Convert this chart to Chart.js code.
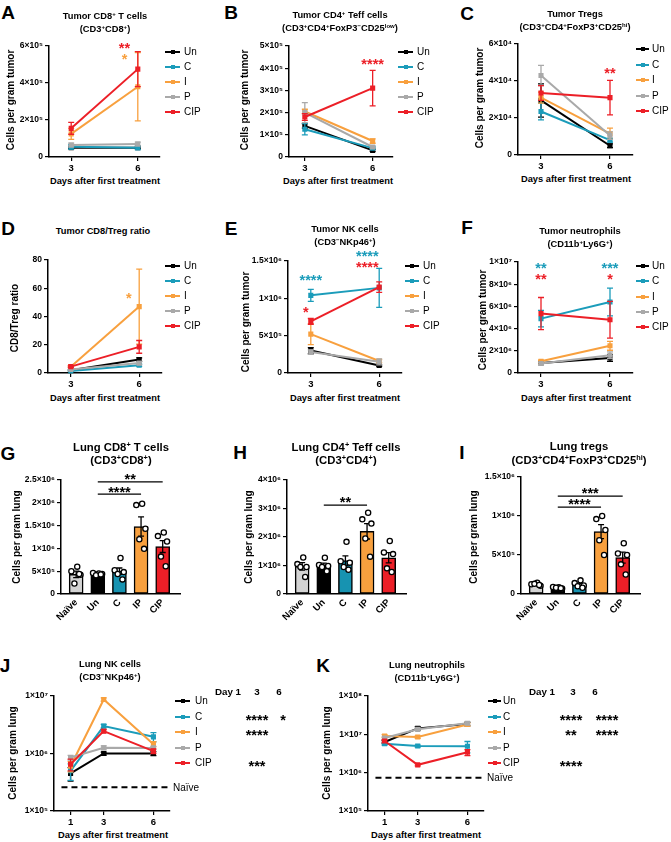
<!DOCTYPE html>
<html>
<head>
<meta charset="utf-8">
<title>Tumor and lung immune cells</title>
<script src="https://cdn.jsdelivr.net/npm/chart.js@4.4.1/dist/chart.umd.min.js"></script>
<style>
  body { margin: 0; background: #fff; }
  #page { position: relative; width: 671px; height: 842px; overflow: hidden; font-family: 'Liberation Sans', Arial, sans-serif; color: #000; }
  #page canvas { position: absolute; }
  .lbl { position: absolute; transform: translate(-50%, -50%); white-space: nowrap; text-align: center; font-weight: bold; }
  .letter { font-size: 19px; line-height: 19px; }
  .ttl { font-size: 9.3px; line-height: 13px; }
  .big { font-size: 11.3px; line-height: 13.5px; }
  .axl { font-size: 9.3px; line-height: 11px; }
  .hd { font-size: 9.8px; line-height: 11px; }
  .yl { font-size: 10px; line-height: 11px; transform: translate(-50%, -50%) rotate(-90deg); }
  .star { font-size: 14.5px; line-height: 14.5px; }
  .lg { position: absolute; font-size: 10px; line-height: 12px; transform: translateY(-50%); white-space: nowrap; }
  .lgline { position: absolute; height: 2px; }
  .lgdot { position: absolute; width: 4px; height: 4px; }
  sup { font-size: 65%; line-height: 0; vertical-align: 0.45em; }
</style>
</head>
<body>
<div id="page"></div>
<script>
// --- groupes / couleurs ---
const groups = ['Un', 'C', 'I', 'P', 'CIP'];
const barGroups = ['Naïve', 'Un', 'C', 'IP', 'CIP'];
const tumorDays = [3, 6];
const lungDays = [1, 3, 6];
const lineColors = ['#000000', '#1b9cba', '#f8a03e', '#a9a9a9', '#ec1f27'];
const barColors = ['#d3d3d3', '#000000', '#1793b1', '#f8a03e', '#ec1f27'];

// --- A: tumor CD8 ---
const aMean = [[5.0e4, 5.0e4], [5.5e4, 5.0e4], [1.25e5, 3.8e5], [6.5e4, 7.0e4], [1.55e5, 4.75e5]];
const aSem = [[5e3, 5e3], [1.2e4, 1e4], [3e4, 1.85e5], [1e4, 1e4], [3.2e4, 9.5e4]];
const aTicks = [0, 2e5, 4e5, 6e5];
// --- B: tumor CD4 Teff ---
const bMean = [[1.4e5, 3e4], [1.25e5, 4e4], [2.05e5, 7.2e4], [2.0e5, 4.5e4], [1.8e5, 3.1e5]];
const bSem = [[1e4, 5e3], [2.5e4, 5e3], [1e4, 1e4], [4.5e4, 5e3], [1.5e4, 8e4]];
const bTicks = [0, 1e5, 2e5, 3e5, 4e5, 5e5];
// --- C: tumor Tregs ---
const cMean = [[2.95e4, 5e3], [2.35e4, 8e3], [3.1e4, 1.15e4], [4.3e4, 1.05e4], [3.35e4, 3.1e4]];
const cSem = [[9e3, 1e3], [4.5e3, 1e3], [3e3, 3e3], [5.5e3, 2e3], [4e3, 9.3e3]];
const cTicks = [0, 2e4, 4e4, 6e4];
// --- D: CD8/Treg ratio ---
const dMean = [[2, 9.5], [1.5, 5.5], [4.5, 47], [2.5, 7], [4.5, 18.5]];
const dSem = [[0.3, 1.2], [0.3, 0.8], [0.5, 26.5], [0.4, 1], [0.5, 4.5]];
const dTicks = [0, 20, 40, 60, 80];
// --- E: tumor NK ---
const eMean = [[3.0e5, 1.0e5], [1.04e6, 1.14e6], [5.2e5, 1.6e5], [2.8e5, 1.5e5], [6.9e5, 1.15e6]];
const eSem = [[4e4, 1e4], [8e4, 2.6e5], [1.4e5, 2e4], [3e4, 4e4], [4e4, 7e4]];
const eTicks = [0, 5e5, 1e6, 1.5e6];
// --- F: tumor neutrophils ---
const fMean = [[9e5, 1.35e6], [4.9e6, 6.4e6], [1.05e6, 2.45e6], [8.5e5, 1.6e6], [5.35e6, 4.8e6]];
const fSem = [[1e5, 3e5], [7.5e5, 1.25e6], [1e5, 4e5], [1e5, 3e5], [1.45e6, 1.65e6]];
const fTicks = [0, 2e6, 4e6, 6e6, 8e6, 1e7];
// --- G/H/I: lung bars ---
const gMean = [4.3e5, 4.3e5, 5.0e5, 1.48e6, 1.04e6];
const gSem = [7e4, 2e4, 7e4, 2.1e5, 1.3e5];
const gPoints = [[6.0e5, 5.0e5, 4.2e5, 2.3e5, 4.4e5], [4.5e5, 4.6e5, 4.4e5, 4.1e5, 4.3e5], [7.9e5, 5.2e5, 4.8e5, 4.4e5, 3.2e5], [1.98e6, 1.95e6, 1.43e6, 1.2e6, 9.9e5], [1.35e6, 1.27e6, 1.15e6, 8.2e5, 6.1e5]];
const gTicks = [0, 5e5, 1e6, 1.5e6, 2e6, 2.5e6];
const hMean = [9.7e5, 1.0e6, 1.17e6, 2.2e6, 1.27e6];
const hSem = [1.3e5, 8e4, 1.7e5, 2.7e5, 1.8e5];
const hPoints = [[1.28e6, 1.05e6, 9.5e5, 9.5e5, 6.0e5], [1.27e6, 1.02e6, 9.8e5, 9.5e5, 8.0e5], [1.83e6, 1.15e6, 1.1e6, 9.5e5, 8.5e5], [2.85e6, 2.62e6, 2.47e6, 1.95e6, 1.31e6], [1.86e6, 1.46e6, 1.4e6, 9.0e5, 7.7e5]];
const hTicks = [0, 1e6, 2e6, 3e6, 4e6];
const iMean = [1.24e5, 8e4, 1.15e5, 8.0e5, 4.66e5];
const iSem = [1.5e4, 8e3, 2e4, 9e4, 7e4];
const iPoints = [[1.45e5, 1.25e5, 1.05e5, 1.3e5, 1.15e5], [8.5e4, 9e4, 7e4, 8e4, 7.5e4], [1.75e5, 1.4e5, 1.1e5, 1.0e5, 8e4], [1.0e6, 9.6e5, 8.2e5, 6.9e5, 5.0e5], [6.5e5, 5.2e5, 5.0e5, 3.8e5, 2.5e5]];
const iTicks = [0, 5e5, 1e6, 1.5e6];
// --- J/K: lung kinetics (log) ---
const jMean = [[4.5e5, 1.0e6, 1.0e6], [5.0e5, 3.0e6, 1.95e6], [6.0e5, 8.7e6, 1.45e6], [8.5e5, 1.26e6, 1.25e6], [6.5e5, 2.45e6, 1.1e6]];
const jSem = [[1.2e5, 6e4, 8e4], [1.6e5, 2e5, 3.5e5], [1.2e5, 6e5, 1.5e5], [8e4, 1e5, 8e4], [1.5e5, 1.5e5, 1e5]];
const jTicks = [1e5, 1e6, 1e7];
const jNaive = 2.6e5;
const jSig = [['', '', ''], ['', '****', '*'], ['', '****', ''], ['', '', ''], ['', '***', '']];
const kMean = [[6.3e6, 1.43e7, 1.86e7], [5.7e6, 4.96e6, 4.9e6], [9e6, 8.5e6, 1.8e7], [8e6, 1.35e7, 1.95e7], [6.7e6, 1.6e6, 3.4e6]];
const kSem = [[6e5, 1.5e6, 2e6], [5e5, 3e5, 1.6e6], [8e5, 6e5, 1.5e6], [6e5, 1e6, 1.5e6], [5e5, 1e5, 6e5]];
const kTicks = [1e5, 1e6, 1e7, 1e8];
const kNaive = 7.4e5;
const kSig = [['', '', ''], ['', '****', '****'], ['', '**', '****'], ['', '', ''], ['', '****', '']];

const RED = lineColors[4], ORANGE = lineColors[2], TEAL = lineColors[1];
const jitter = [0.05, -0.22, 0.2, -0.08, 0.14];

Chart.defaults.font.family = "'Liberation Sans', Arial, sans-serif";
Chart.defaults.color = '#000';
Chart.defaults.animation = false;

const page = document.getElementById('page');
const YW = 42, XH = 18, XB = 34, PT = 14, PR = 8;
const SUP = '⁰¹²³⁴⁵⁶⁷⁸⁹';

function sci(v) {
  if (v === 0) return '0';
  if (v < 1000) return String(v);
  const e = Math.floor(Math.log10(v) + 1e-9);
  const m = Math.round(v / Math.pow(10, e) * 10) / 10;
  return m + '×10' + String(e).split('').map(d => SUP[d]).join('');
}

function yAxis(ticks, type) {
  return {
    type: type || 'linear', min: ticks[0], max: ticks[ticks.length - 1], bounds: 'data',
    afterBuildTicks: s => { s.ticks = ticks.map(v => ({ value: v })); },
    afterFit: s => { s.width = YW; },
    ticks: { callback: v => sci(v), font: { size: 8.5, weight: 'bold' }, padding: 2, autoSkip: false },
    grid: { drawOnChartArea: false, tickLength: 4, color: '#000', lineWidth: 1.2 },
    border: { color: '#000', width: 1.5 }
  };
}

function xAxis(ticks, min, max) {
  return {
    type: 'linear', min: min, max: max, bounds: 'data',
    afterBuildTicks: s => { s.ticks = ticks.map(v => ({ value: v })); },
    afterFit: s => { s.height = XH; },
    ticks: { font: { size: 9.5, weight: 'bold' }, padding: 2, autoSkip: false, maxRotation: 0 },
    grid: { drawOnChartArea: false, tickLength: 4, color: '#000', lineWidth: 1.2 },
    border: { color: '#000', width: 1.5 }
  };
}

// barres d'erreur (moyenne ± SEM) dessinées après chaque dataset
const errorBars = {
  id: 'errorBars',
  afterDatasetDraw(chart, args) {
    const ds = chart.data.datasets[args.index];
    if (!ds.sem) return;
    const ys = chart.scales.y, ctx = chart.ctx;
    ctx.save();
    ctx.strokeStyle = ds.errColor || ds.borderColor;
    ctx.lineWidth = 1.3;
    args.meta.data.forEach((el, k) => {
      const v = ds.data[k].y, s = ds.sem[k];
      if (!s) return;
      const top = ys.getPixelForValue(v + s);
      const bot = ys.getPixelForValue(Math.max(v - s, ys.min));
      ctx.beginPath();
      ctx.moveTo(el.x, top); ctx.lineTo(el.x, bot);
      ctx.moveTo(el.x - 3, top); ctx.lineTo(el.x + 3, top);
      ctx.moveTo(el.x - 3, bot); ctx.lineTo(el.x + 3, bot);
      ctx.stroke();
    });
    ctx.restore();
  }
};

function drawStars(ctx, t, x, y, color) {
  ctx.fillStyle = color;
  ctx.font = "bold 14.5px 'Liberation Sans', Arial, sans-serif";
  ctx.textAlign = 'center';
  ctx.textBaseline = 'alphabetic';
  ctx.fillText(t, x, y + 8.4);
}

function marks(list) {
  return {
    id: 'marks',
    afterDraw(chart) {
      const xs = chart.scales.x, ys = chart.scales.y, ctx = chart.ctx;
      ctx.save();
      list.forEach(m => drawStars(ctx, m.t, xs.getPixelForValue(m.x), ys.getPixelForValue(m.y), m.c));
      ctx.restore();
    }
  };
}

function brackets(list) {
  return {
    id: 'brackets',
    afterDraw(chart) {
      const xs = chart.scales.x, ys = chart.scales.y, ctx = chart.ctx;
      ctx.save();
      list.forEach(b => {
        const x1 = xs.getPixelForValue(b.a), x2 = xs.getPixelForValue(b.b), y = ys.getPixelForValue(b.y);
        ctx.strokeStyle = '#000'; ctx.lineWidth = 1.3;
        ctx.beginPath(); ctx.moveTo(x1, y); ctx.lineTo(x2, y); ctx.stroke();
        drawStars(ctx, b.t, (x1 + x2) / 2, y - 6, '#000');
      });
      ctx.restore();
    }
  };
}

function naiveTag(level) {
  return {
    id: 'naiveTag',
    afterDraw(chart) {
      if (!level) return;
      const ctx = chart.ctx;
      ctx.save();
      ctx.fillStyle = '#000';
      ctx.font = "10px 'Liberation Sans', Arial, sans-serif";
      ctx.textAlign = 'left'; ctx.textBaseline = 'middle';
      ctx.fillText('Naïve', chart.chartArea.right + 3, chart.scales.y.getPixelForValue(level) + 1);
      ctx.restore();
    }
  };
}

function makeCanvas(x0, x1, y0, y1, padR, xh) {
  const cv = document.createElement('canvas');
  cv.width = x1 - x0 + YW + padR;
  cv.height = y1 - y0 + PT + xh;
  cv.style.left = (x0 - YW) + 'px';
  cv.style.top = (y0 - PT) + 'px';
  page.appendChild(cv);
  return cv;
}

function baseOptions(padR) {
  return {
    responsive: false, events: [],
    layout: { padding: { top: PT, right: padR, left: 0, bottom: 0 } },
    plugins: { legend: { display: false }, tooltip: { enabled: false } }
  };
}

function linePanel(p) {
  const padR = p.padR || PR;
  const cv = makeCanvas(p.x0, p.x1, p.y0, p.y1, padR, XH);
  const datasets = groups.map((g, i) => ({
    label: g,
    data: p.days.map((d, k) => ({ x: d, y: p.mean[i][k] })),
    sem: p.sem[i],
    borderColor: lineColors[i], backgroundColor: lineColors[i],
    borderWidth: 2, pointRadius: 2.2, pointStyle: 'rect',
    order: groups.length - i, clip: false
  }));
  if (p.naive) {
    datasets.push({
      label: 'Naïve', data: [{ x: 0.45, y: p.naive }, { x: p.xMax, y: p.naive }],
      borderColor: '#000', borderWidth: 2, borderDash: [6, 4], pointRadius: 0, order: 10, clip: false
    });
  }
  const options = baseOptions(padR);
  options.scales = { x: xAxis(p.days, p.xMin, p.xMax), y: yAxis(p.yTicks, p.yType) };
  new Chart(cv, {
    type: 'line', data: { datasets }, options,
    plugins: [errorBars, marks(p.stars || []), naiveTag(p.naive)]
  });
}

function barPanel(p) {
  const cv = makeCanvas(p.x0, p.x1, p.y0, p.y1, PR, XB);
  const options = baseOptions(PR);
  options.scales = {
    x: {
      type: 'linear', min: -0.7, max: 4.8, offset: false, bounds: 'data',
      afterBuildTicks: s => { s.ticks = barGroups.map((g, i) => ({ value: i })); },
      afterFit: s => { s.height = XB; },
      ticks: { callback: v => barGroups[v], minRotation: 45, maxRotation: 45, autoSkip: false, font: { size: 9.5, weight: 'bold' }, padding: 3 },
      grid: { drawOnChartArea: false, drawTicks: false },
      border: { color: '#000', width: 1.5 }
    },
    y: yAxis(p.yTicks)
  };
  new Chart(cv, {
    type: 'bar',
    data: {
      datasets: [
        {
          type: 'bar', data: p.mean.map((y, i) => ({ x: i, y })), sem: p.sem, errColor: '#000',
          backgroundColor: barColors, borderColor: '#000', borderWidth: 1.5, borderSkipped: false,
          barThickness: 14, order: 2
        },
        {
          type: 'scatter',
          data: p.points.flatMap((arr, i) => arr.map((y, k) => ({ x: i + jitter[k], y }))),
          pointRadius: 2.6, pointBackgroundColor: '#fff', pointBorderColor: '#000', pointBorderWidth: 1.3,
          order: 1, clip: false
        }
      ]
    },
    options,
    plugins: [errorBars, brackets(p.sig)]
  });
}

// --- textes HTML ---
function txt(x, y, html, cls) {
  const d = document.createElement('div');
  d.className = 'lbl ' + cls;
  d.style.left = x + 'px';
  d.style.top = y + 'px';
  d.innerHTML = html;
  page.appendChild(d);
}

function legend(x, y0, dy, len, off) {
  groups.forEach((g, i) => {
    const y = y0 + i * dy;
    const ln = document.createElement('div');
    ln.className = 'lgline';
    ln.style.cssText = `left:${x}px;top:${y - 1}px;width:${len}px;background:${lineColors[i]}`;
    page.appendChild(ln);
    const dot = document.createElement('div');
    dot.className = 'lgdot';
    dot.style.cssText = `left:${x + len / 2 - 2}px;top:${y - 2}px;background:${lineColors[i]}`;
    page.appendChild(dot);
    const t = document.createElement('div');
    t.className = 'lg';
    t.style.left = (x + off) + 'px';
    t.style.top = y + 'px';
    t.textContent = g;
    page.appendChild(t);
  });
}

function dayTable(headX, starX, headY, y0, dy, sig) {
  txt(headX[0], headY, 'Day 1', 'hd');
  txt(headX[1], headY, lungDays[1], 'hd');
  txt(headX[2], headY, lungDays[2], 'hd');
  sig.forEach((row, i) => row.forEach((s, k) => {
    if (s) txt(starX[k], y0 + i * dy + 3.4, s, 'star');
  }));
}

// --- panneaux ---
linePanel({ x0: 49, x1: 160, y0: 46, y1: 157, days: tumorDays, xMin: 2, xMax: 7, mean: aMean, sem: aSem, yTicks: aTicks,
  stars: [{ x: 5.4, y: 6.1e5, t: '**', c: RED }, { x: 5.4, y: 5.5e5, t: '*', c: ORANGE }] });
linePanel({ x0: 289, x1: 393, y0: 46, y1: 157, days: tumorDays, xMin: 2.3, xMax: 6.9, mean: bMean, sem: bSem, yTicks: bTicks,
  stars: [{ x: 6, y: 4.32e5, t: '****', c: RED }] });
linePanel({ x0: 518, x1: 633, y0: 44, y1: 155, days: tumorDays, xMin: 2, xMax: 7, mean: cMean, sem: cSem, yTicks: cTicks,
  stars: [{ x: 6, y: 4.6e4, t: '**', c: RED }] });
linePanel({ x0: 48, x1: 162, y0: 260, y1: 373, days: tumorDays, xMin: 2, xMax: 7, mean: dMean, sem: dSem, yTicks: dTicks,
  stars: [{ x: 5.55, y: 55.5, t: '*', c: ORANGE }] });
linePanel({ x0: 288, x1: 402, y0: 261, y1: 373, days: tumorDays, xMin: 2, xMax: 7, mean: eMean, sem: eSem, yTicks: eTicks,
  stars: [{ x: 3, y: 1.29e6, t: '****', c: TEAL }, { x: 2.78, y: 8.6e5, t: '*', c: RED },
          { x: 5.48, y: 1.61e6, t: '****', c: TEAL }, { x: 5.48, y: 1.46e6, t: '****', c: RED }] });
linePanel({ x0: 518, x1: 633, y0: 262, y1: 373, days: tumorDays, xMin: 2, xMax: 7, mean: fMean, sem: fSem, yTicks: fTicks,
  stars: [{ x: 3, y: 9.75e6, t: '**', c: TEAL }, { x: 3, y: 8.8e6, t: '**', c: RED },
          { x: 6, y: 9.75e6, t: '***', c: TEAL }, { x: 6, y: 8.8e6, t: '*', c: RED }] });

barPanel({ x0: 61, x1: 180, y0: 480, y1: 594, mean: gMean, sem: gSem, points: gPoints, yTicks: gTicks,
  sig: [{ a: 1, b: 4, y: 2.46e6, t: '**' }, { a: 1, b: 3, y: 2.19e6, t: '****' }] });
barPanel({ x0: 287, x1: 406, y0: 480, y1: 594, mean: hMean, sem: hSem, points: hPoints, yTicks: hTicks,
  sig: [{ a: 1, b: 3, y: 3.12e6, t: '**' }] });
barPanel({ x0: 521, x1: 640, y0: 477, y1: 594, mean: iMean, sem: iSem, points: iPoints, yTicks: iTicks,
  sig: [{ a: 1, b: 4, y: 1.256e6, t: '***' }, { a: 1, b: 3, y: 1.115e6, t: '****' }] });

linePanel({ x0: 54, x1: 170, y0: 696, y1: 811, days: lungDays, xMin: 0, xMax: 7, mean: jMean, sem: jSem,
  yTicks: jTicks, yType: 'logarithmic', naive: jNaive, padR: 36 });
linePanel({ x0: 368, x1: 484, y0: 696, y1: 811, days: lungDays, xMin: 0, xMax: 7, mean: kMean, sem: kSem,
  yTicks: kTicks, yType: 'logarithmic', naive: kNaive, padR: 36 });

// lettres
[['A', 8, 12], ['B', 231, 12], ['C', 467, 13], ['D', 8, 228], ['E', 231, 228], ['F', 467, 227],
 ['G', 8, 453], ['H', 240, 452], ['I', 462, 452], ['J', 5, 665], ['K', 323, 665]]
  .forEach(l => txt(l[1], l[2], l[0], 'letter'));

// titres
txt(105, 22.5, 'Tumor CD8<sup>+</sup> T cells<br>(CD3<sup>+</sup>CD8<sup>+</sup>)', 'ttl');
txt(340, 22, 'Tumor CD4<sup>+</sup> Teff cells<br>(CD3<sup>+</sup>CD4<sup>+</sup>FoxP3<sup>−</sup>CD25<sup>low</sup>)', 'ttl');
txt(575, 20.5, 'Tumor Tregs<br>(CD3<sup>+</sup>CD4<sup>+</sup>FoxP3<sup>+</sup>CD25<sup>hi</sup>)', 'ttl');
txt(103, 231, 'Tumor CD8/Treg ratio', 'ttl');
txt(345, 236, 'Tumor NK cells<br>(CD3<sup>−</sup>NKp46<sup>+</sup>)', 'ttl');
txt(580, 238, 'Tumor neutrophils<br>(CD11b<sup>+</sup>Ly6G<sup>+</sup>)', 'ttl');
txt(121, 453.5, 'Lung CD8<sup>+</sup> T cells<br>(CD3<sup>+</sup>CD8<sup>+</sup>)', 'big');
txt(346, 453.5, 'Lung CD4<sup>+</sup> Teff cells<br>(CD3<sup>+</sup>CD4<sup>+</sup>)', 'big');
txt(579, 453, 'Lung tregs<br>(CD3<sup>+</sup>CD4<sup>+</sup>FoxP3<sup>+</sup>CD25<sup>hi</sup>)', 'big');
txt(110, 671, 'Lung NK cells<br>(CD3<sup>−</sup>NKp46<sup>+</sup>)', 'ttl');
txt(427, 671.5, 'Lung neutrophils<br>(CD11b<sup>+</sup>Ly6G<sup>+</sup>)', 'ttl');

// titres d'axes
const days = 'Days after first treatment';
[[105, 181], [338, 181], [576, 179], [105, 398], [345, 398], [576, 398], [113, 835], [426, 835]]
  .forEach(p => txt(p[0], p[1], days, 'axl'));
[[10, 100, 'Cells per gram tumor'], [244, 100, 'Cells per gram tumor'], [479, 98, 'Cells per gram tumor'],
 [14, 318, 'CD8/Treg ratio'], [245, 322, 'Cells per gram tumor'], [482, 320, 'Cells per gram tumor'],
 [16, 537, 'Cells per gram lung'], [248, 537, 'Cells per gram lung'], [473, 537, 'Cells per gram lung'],
 [12, 753, 'Cells per gram lung'], [326, 753, 'Cells per gram lung']]
  .forEach(p => txt(p[0], p[1], p[2], 'yl'));

// légendes
legend(165, 52, 15, 15, 19);
legend(398, 52, 15, 15, 19);
legend(636, 49, 15.5, 13, 16);
legend(165, 266, 15, 15, 19);
legend(405, 266, 15, 14, 18);
legend(636, 266, 15.3, 13, 16);
legend(175, 701, 15.5, 15, 20);
legend(488, 701, 15.5, 13, 15);

dayTable([228, 257, 279], [0, 257, 283], 691, 701, 15.5, jSig);
dayTable([542, 573, 595], [0, 571, 607], 691, 701, 15.5, kSig);
</script>
</body>
</html>
